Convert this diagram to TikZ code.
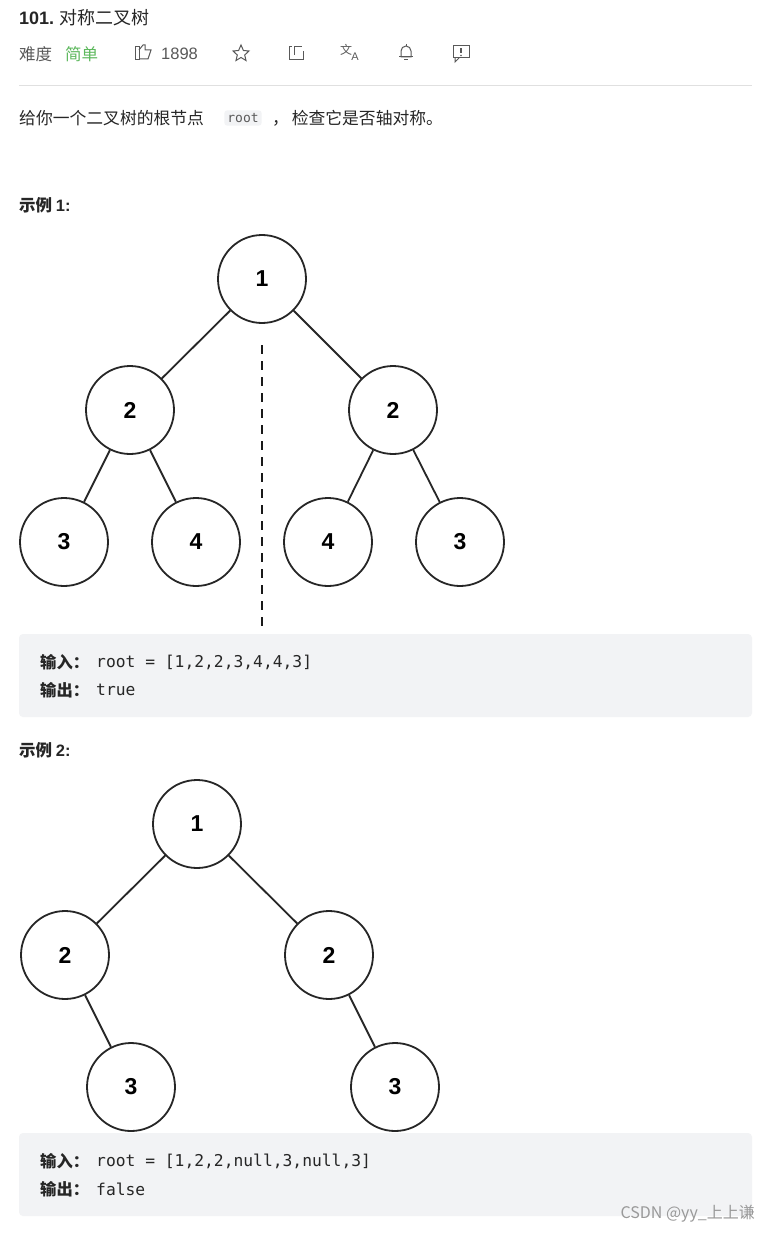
\documentclass[tikz,border=0pt]{standalone}
\usepackage{fontspec}
\setmainfont{Noto Sans CJK SC}
\newfontfamily\cjk{Noto Sans CJK SC}
\newfontfamily\arl{Liberation Sans}
\setmonofont{DejaVu Sans Mono}
\definecolor{boxbg}{HTML}{F2F3F5}
\definecolor{txt}{HTML}{262626}
\definecolor{gr}{HTML}{595959}
\definecolor{easy}{HTML}{5CB85C}
\begin{document}
\begin{tikzpicture}[x=1pt,y=-1pt,
  tn/.style={circle,draw=black!85,line width=1.8pt,minimum size=88pt,inner sep=0pt,font=\arl\bfseries\fontsize{23}{23}\selectfont},
  ed/.style={draw=black!85,line width=1.8pt},
  lbl/.style={anchor=west,inner sep=0pt,text=txt},
  codebox/.style={fill=boxbg,rounded corners=4pt,draw=none},
  ico/.style={draw=gr,line width=1pt}]
\useasboundingbox[fill=white] (0,0) rectangle (771,1233);
% header
\node[lbl,font=\fontsize{18}{18}\selectfont] (title) at (19,18) {\textbf{\arl 101.} 对称二叉树};
\node[lbl,text=gr,font=\fontsize{16.5}{16.5}\selectfont] (diff) at (19,54) {难度};
\node[lbl,text=easy,font=\fontsize{16.5}{16.5}\selectfont] (easy) at (65,54) {简单};
\node[lbl,text=gr,font=\arl\fontsize{16.5}{16.5}\selectfont] (likes) at (161,54) {1898};
% like icon
\draw[ico] (135,47) rectangle (139,60);
\draw[ico] (139,59) -- (148,59) -- (151,50) -- (145,50) -- (145,45) -- (143,45) -- (139,50);
% star
\draw[ico] (241,45) -- (243.4,50.5) -- (249,51) -- (244.7,55) -- (246,60.5) -- (241,57.5) -- (236,60.5) -- (237.3,55) -- (233,51) -- (238.6,50.5) -- cycle;
% share
\draw[ico] (292,47) -- (289,47) -- (289,60) -- (303,60) -- (303,51);
\draw[ico] (294,55) -- (294,47) -- (302,47);
% translate
\node[text=gr,inner sep=0pt,font=\cjk\fontsize{12}{12}\selectfont] (tr1) at (346,50) {文};
\node[text=gr,inner sep=0pt,font=\arl\fontsize{11}{11}\selectfont] (tr2) at (355,57) {A};
% bell
\draw[ico] (401,57) -- (401,51) arc[start angle=180,end angle=360,radius=5] -- (411,57) -- cycle;
\draw[ico] (399,57) -- (413,57);
\draw[ico] (404,60) -- (408,60);
\draw[ico] (406,44) -- (406,46);
% feedback
\draw[ico] (453,46) rectangle (469,58);
\draw[ico] (455,58) -- (455,62) -- (459,58);
\draw[gr,line width=1.2pt] (461,48.5) -- (461,53);
\fill[gr] (461,55.5) circle (0.9);
\draw[black!12,line width=0.8pt] (19,85) -- (752,85);
% description
\node[lbl,font=\fontsize{16.8}{16.8}\selectfont] (desc1) at (19,118) {给你一个二叉树的根节点};
\node[fill=boxbg,rounded corners=3pt,inner sep=3pt,text=gr,font=\ttfamily\fontsize{13}{13}\selectfont] (rootc) at (243,118) {root};
\node[lbl,font=\fontsize{16.8}{16.8}\selectfont] (desc2) at (272,118) {，\,检查它是否轴对称。};
\node[lbl,font=\bfseries\fontsize{16.5}{16.5}\selectfont] (ex1) at (19,205) {示例 \arl 1:};
% tree 1
\node[tn] (a1) at (262,279) {1};
\node[tn] (a2) at (130,410) {2};
\node[tn] (a3) at (393,410) {2};
\node[tn] (a4) at (64,542) {3};
\node[tn] (a5) at (196,542) {4};
\node[tn] (a6) at (328,542) {4};
\node[tn] (a7) at (460,542) {3};
\draw[ed] (a1) -- (a2); \draw[ed] (a1) -- (a3);
\draw[ed] (a2) -- (a4); \draw[ed] (a2) -- (a5);
\draw[ed] (a3) -- (a6); \draw[ed] (a3) -- (a7);
\coordinate (d1) at (262,345); \coordinate (d2) at (262,632);
\draw[black!90,line width=2.8pt,dash pattern=on 9pt off 7pt] (d1) -- (d2);
\fill[codebox] (19,634) rectangle (752,717);
\node[lbl,font=\bfseries\fontsize{16.3}{16.3}\selectfont] (in1) at (40,662) {输入：};
\node[lbl,font=\ttfamily\fontsize{16.3}{16.3}\selectfont] (in1c) at (96,662) {root = [1,2,2,3,4,4,3]};
\node[lbl,font=\bfseries\fontsize{16.3}{16.3}\selectfont] (out1) at (40,690) {输出：};
\node[lbl,font=\ttfamily\fontsize{16.3}{16.3}\selectfont] (out1c) at (96,690) {true};
\node[lbl,font=\bfseries\fontsize{16.5}{16.5}\selectfont] (ex2) at (19,750) {示例 \arl 2:};
% tree 2
\node[tn] (b1) at (197,824) {1};
\node[tn] (b2) at (65,955) {2};
\node[tn] (b3) at (329,955) {2};
\node[tn] (b4) at (131,1087) {3};
\node[tn] (b5) at (395,1087) {3};
\draw[ed] (b1) -- (b2); \draw[ed] (b1) -- (b3);
\draw[ed] (b2) -- (b4); \draw[ed] (b3) -- (b5);
\fill[codebox] (19,1133) rectangle (752,1216);
\node[lbl,font=\bfseries\fontsize{16.3}{16.3}\selectfont] (in2) at (40,1161) {输入：};
\node[lbl,font=\ttfamily\fontsize{16.3}{16.3}\selectfont] (in2c) at (96,1161) {root = [1,2,2,null,3,null,3]};
\node[lbl,font=\bfseries\fontsize{16.3}{16.3}\selectfont] (out2) at (40,1189) {输出：};
\node[lbl,font=\ttfamily\fontsize{16.3}{16.3}\selectfont] (out2c) at (96,1189) {false};
\node[anchor=east,inner sep=0pt,text=black!40,font=\fontsize{16}{16}\selectfont] (wm) at (755,1214) {CSDN @yy\_上上谦};
\end{tikzpicture}
\end{document}
